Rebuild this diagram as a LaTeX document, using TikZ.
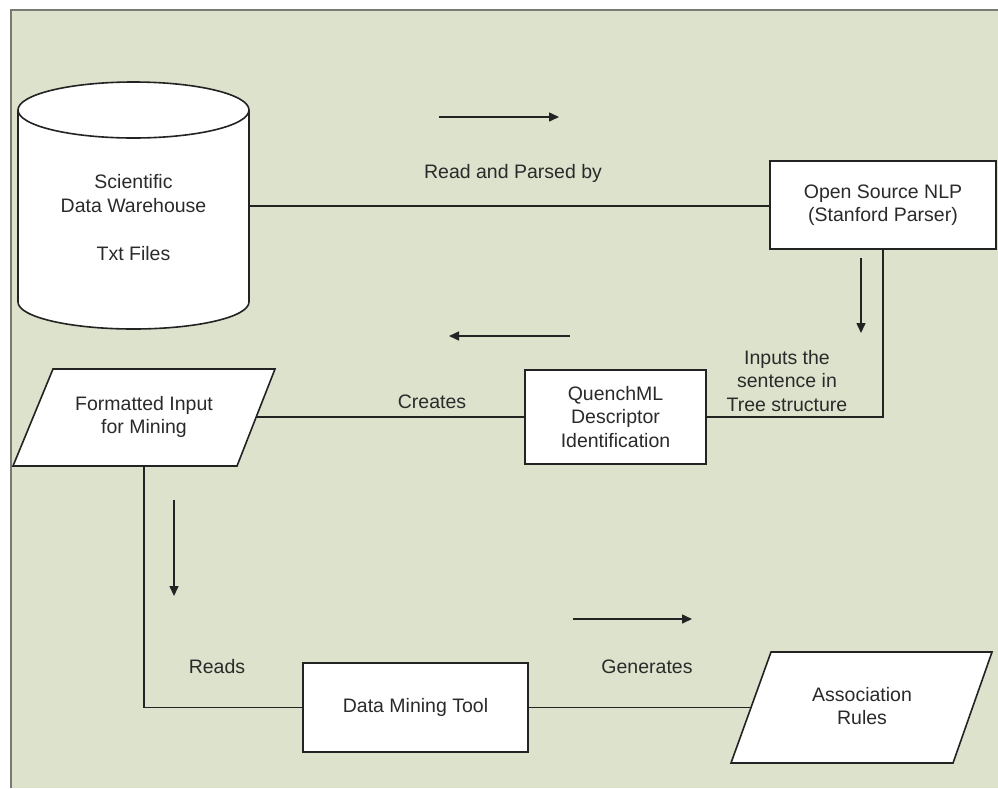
\documentclass[tikz,border=0pt]{standalone}
\usepackage{fontspec}
\setmainfont{Liberation Sans}
\usetikzlibrary{arrows.meta,calc}
\definecolor{bgcol}{RGB}{221,226,204}
\definecolor{framecol}{RGB}{120,122,116}
\definecolor{linecol}{RGB}{35,35,35}
\definecolor{txtcol}{RGB}{42,42,42}
\newcommand{\lblfont}{\fontsize{19.5}{23.5}\selectfont}
\begin{document}
\begin{tikzpicture}[x=1pt,y=-1pt,
  every node/.style={text=txtcol,font=\lblfont},
  box/.style={draw=linecol,line width=1.6pt,fill=white,rectangle,inner sep=0pt,align=center},
  shapeline/.style={draw=linecol,line width=1.6pt,fill=white,line join=miter},
  conn/.style={draw=linecol,line width=1.6pt},
  flowarrow/.style={draw=linecol,line width=1.5pt,-{Triangle[length=10pt,width=9pt]}},
  lbl/.style={anchor=base,inner sep=0pt,align=center},
  txt/.style={inner sep=0pt,align=center}
]
\useasboundingbox (0,0) rectangle (998,788);
% background and frame
\fill[white] (0,0) rectangle (998,788);
\fill[bgcol] (11,10) rectangle (998,788);
\draw[framecol,line width=2.8pt] (11,788) -- (11,10) -- (998,10);

% cylinder (data warehouse)
\path[shapeline] (18,110) -- (18,302)
  arc[start angle=180,end angle=360,x radius=115.5pt,y radius=27pt]
  -- (249,110)
  arc[start angle=0,end angle=180,x radius=115.5pt,y radius=28pt] -- cycle;
\draw[draw=linecol,line width=1.6pt] (18,110)
  arc[start angle=180,end angle=360,x radius=115.5pt,y radius=28pt];
\node[txt] (dw) at (133.5,218) {Scientific\\Data Warehouse\\[25pt]Txt Files};
\coordinate (dwR) at (249,206);

% Open Source NLP
\node[box,minimum width=226pt,minimum height=88pt] (nlp) at (883,205)
  {Open Source NLP\\(Stanford Parser)};

% QuenchML
\node[box,minimum width=181pt,minimum height=94pt] (qml) at (615.5,417)
  {QuenchML\\Descriptor\\Identification};

% Formatted input (parallelogram)
\path[shapeline] (53,369) -- (275,369) -- (237,466) -- (13,466) -- cycle;
\node[txt] (fmt) at (144,417) {Formatted Input\\for Mining};
\coordinate (fmtR) at (256,417);
\coordinate (fmtB) at (144,466);

% Data Mining Tool
\node[box,minimum width=225pt,minimum height=89pt] (dmt) at (415.5,707.5)
  {Data Mining Tool};

% Association Rules (parallelogram)
\path[shapeline] (771,652) -- (992,652) -- (953,763) -- (731,763) -- cycle;
\node[txt] (ar) at (862,706) {Association\\Rules};
\coordinate (arL) at (751,707.5);

% connectors
\draw[conn] (dwR) -- (dwR -| nlp.west);
\draw[conn] (nlp.south) |- (qml.east);
\draw[conn] (fmtR) -- (qml.west);
\draw[conn] (fmtB) |- (dmt.west);
\draw[conn] (dmt.east) -- (arL);

% direction arrows
\coordinate (a1s) at (439,117); \coordinate (a1e) at (559,117);
\coordinate (a2s) at (861,258); \coordinate (a2e) at (861,333);
\coordinate (a3s) at (570,336); \coordinate (a3e) at (449,336);
\coordinate (a4s) at (174,500); \coordinate (a4e) at (174,596);
\coordinate (a5s) at (573,619); \coordinate (a5e) at (692,619);
\draw[flowarrow] (a1s) -- (a1e);
\draw[flowarrow] (a2s) -- (a2e);
\draw[flowarrow] (a3s) -- (a3e);
\draw[flowarrow] (a4s) -- (a4e);
\draw[flowarrow] (a5s) -- (a5e);

% labels
\node[lbl] (l1) at (513,178) {Read and Parsed by};
\node[txt] (l2) at (787,381) {Inputs the\\sentence in\\Tree structure};
\node[lbl] (l3) at (432,408) {Creates};
\node[lbl] (l4) at (217,673) {Reads};
\node[lbl] (l5) at (647,673) {Generates};
\end{tikzpicture}
\end{document}
